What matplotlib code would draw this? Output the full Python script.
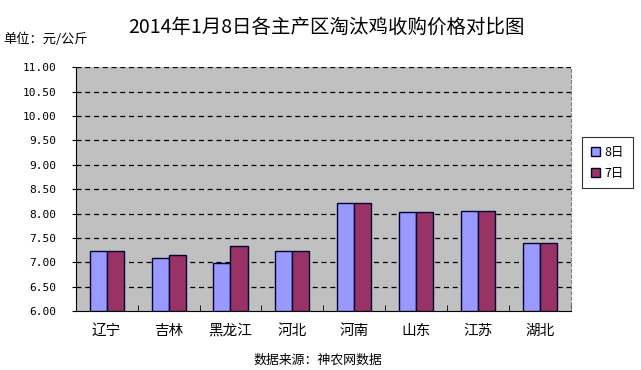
import matplotlib.pyplot as plt
import numpy as np

plt.rcParams['font.family'] = ['Noto Sans CJK SC', 'DejaVu Sans']

regions = ['辽宁', '吉林', '黑龙江', '河北', '河南', '山东', '江苏', '湖北']
price_8 = [7.23, 7.10, 6.99, 7.23, 8.21, 8.03, 8.06, 7.40]
price_7 = [7.24, 7.16, 7.33, 7.24, 8.21, 8.03, 8.06, 7.40]
series_names = ['8日', '7日']
yticks = [6.0, 6.5, 7.0, 7.5, 8.0, 8.5, 9.0, 9.5, 10.0, 10.5, 11.0]

fig = plt.figure(figsize=(6.41, 3.70), dpi=100)
ax = fig.add_axes([0.118, 0.159, 0.773, 0.659])
ax.set_facecolor('#C0C0C0')

x = np.arange(len(regions))
w = 0.275
ax.bar(x - w / 2, [v - 6 for v in price_8], w, bottom=6, color='#9999FF',
       edgecolor='#000033', linewidth=1, label=series_names[0], zorder=3)
ax.bar(x + w / 2, [v - 6 for v in price_7], w, bottom=6, color='#993366',
       edgecolor='#000033', linewidth=1, label=series_names[1], zorder=3)

ax.set_xlim(-0.5, len(regions) - 0.5)
ax.set_ylim(6, 11)
ax.set_yticks(yticks)
ax.set_yticklabels(['%.2f' % t for t in yticks], family='DejaVu Sans Mono', fontsize=8)
ax.set_xticks(x)
ax.set_xticklabels(regions, fontsize=10.5)
ax.tick_params(axis='x', length=0, pad=9)
ax.set_xticks(np.arange(-0.5, len(regions)), minor=True)
ax.tick_params(axis='x', which='minor', direction='in', length=4)
ax.tick_params(axis='y', direction='out', length=3, pad=11)
for t in yticks[1:]:
    ax.axhline(t, color='black', linestyle=(0, (4, 3)), linewidth=0.9, zorder=1)

ax.spines['top'].set_visible(False)
ax.spines['right'].set_linestyle((0, (3, 2)))
ax.spines['right'].set_color('#808080')
ax.spines['left'].set_color('black')
ax.spines['bottom'].set_color('black')

fig.text(0.509, 0.927, '2014年1月8日各主产区淘汰鸡收购价格对比图', ha='center', va='center',
         fontsize=14)
fig.text(0.005, 0.894, '单位：元/公斤', ha='left', va='center', fontsize=9.5)
fig.text(0.496, 0.027, '数据来源：神农网数据', ha='center', va='center', fontsize=9.3)

leg = fig.legend(loc='center', bbox_to_anchor=(0.948, 0.56), fontsize=9, frameon=True,
                 fancybox=False, edgecolor='black', handlelength=0.7, handleheight=0.7,
                 handletextpad=0.4, borderpad=0.7, labelspacing=0.6)
leg.get_frame().set_linewidth(0.8)

fig.savefig('out.png', dpi=100)
